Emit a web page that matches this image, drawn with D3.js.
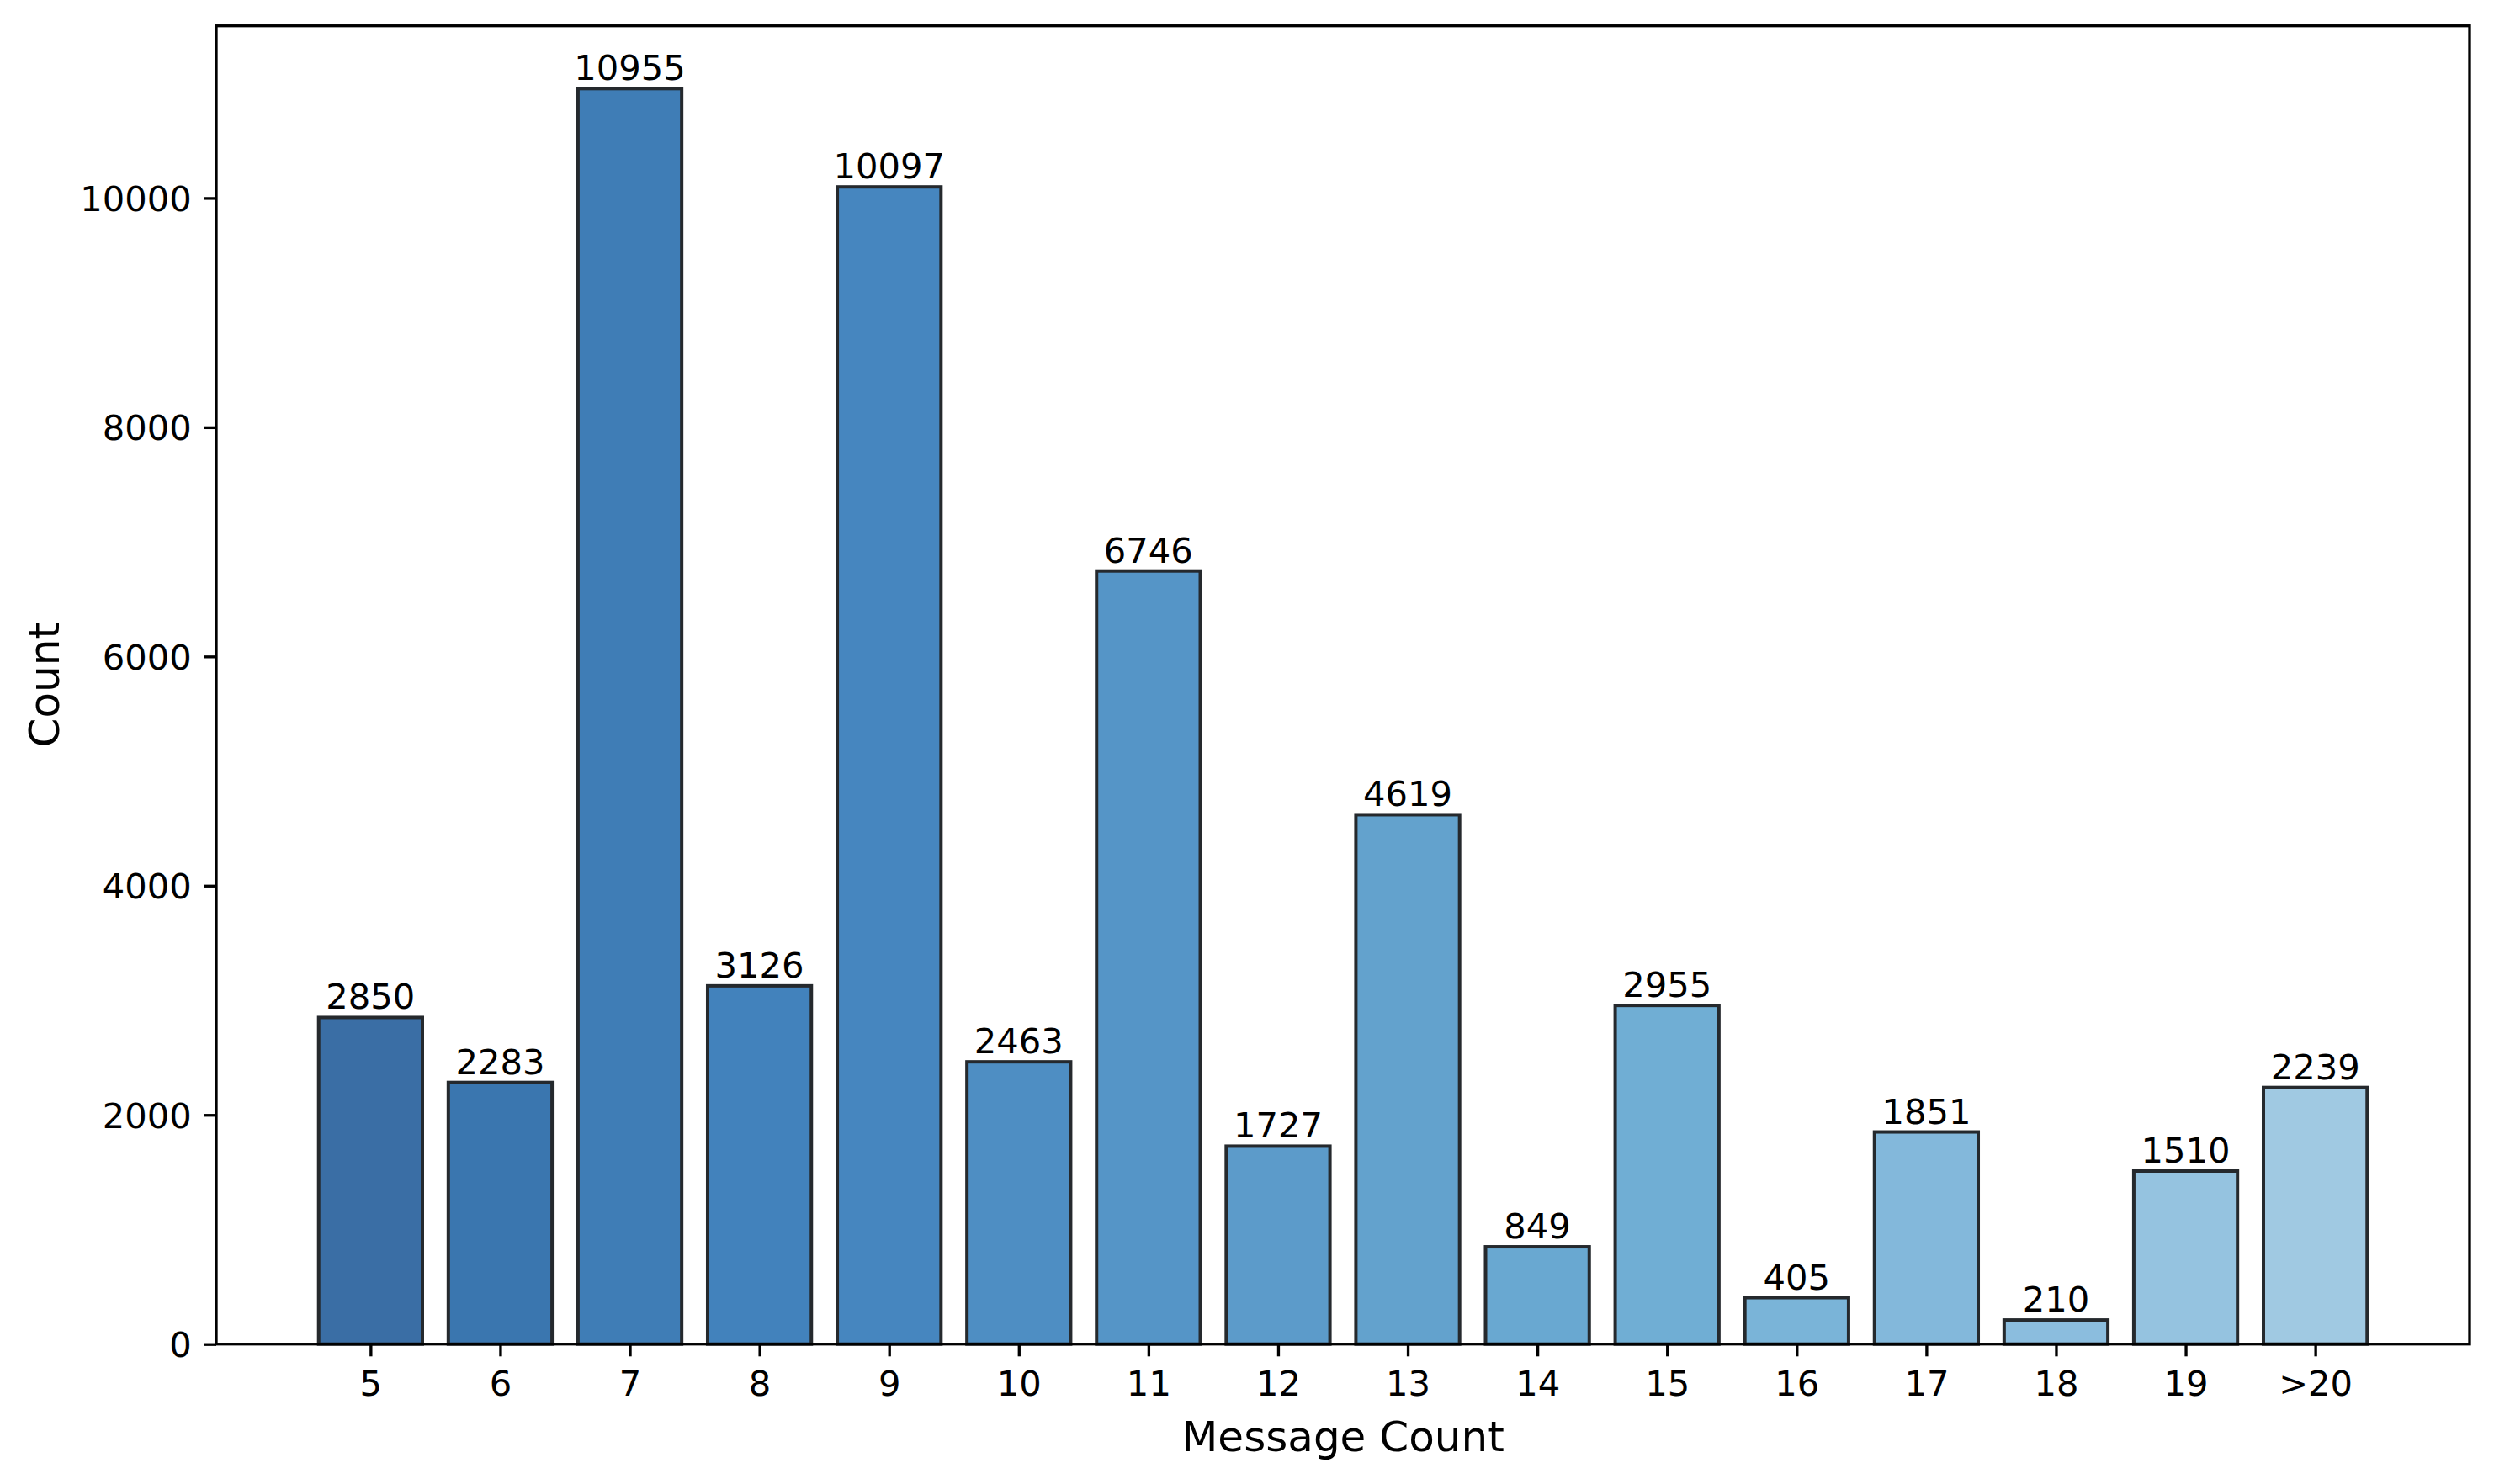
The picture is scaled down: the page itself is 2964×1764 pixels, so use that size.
<!DOCTYPE html>
<html>
<head>
<meta charset="utf-8">
<script src="https://cdn.jsdelivr.net/npm/d3@7"></script>
<style>
  html, body { margin: 0; padding: 0; background: #ffffff; }
  svg { display: block; }
  text { font-family: "DejaVu Sans", sans-serif; fill: #000; }
</style>
</head>
<body>
<svg id="chart" width="2964" height="1764"></svg>
<script>
// ---- data ----
const categories = ["5", "6", "7", "8", "9", "10", "11", "12", "13", "14", "15", "16", "17", "18", "19", ">20"];
const counts = [2850, 2283, 10955, 3126, 10097, 2463, 6746, 1727, 4619, 849, 2955, 405, 1851, 210, 1510, 2239];
const yTickValues = [0, 2000, 4000, 6000, 8000, 10000];
const xAxisTitle = "Message Count";
const yAxisTitle = "Count";

// ---- style ----
const barColors = ["#3a6ea5", "#3a76af", "#3f7db6", "#4282bc", "#4686bf", "#4e8ec3", "#5595c7", "#5c9bca",
                   "#63a2cd", "#69a8d1", "#70aed4", "#7ab4d8", "#83b8db", "#8bbdde", "#95c3e0", "#a0c9e2"];
const W = 2964, H = 1764;
const plot = { left: 257, right: 2935, top: 30.7, bottom: 1597.7 };
const tickFont = 41.67, labelFont = 50;
const tickLen = 14.6, tickPad = 14.6;
const barWidth = 0.8;

const svg = d3.select("#chart");
svg.append("rect").attr("width", W).attr("height", H).attr("fill", "#fff");

const n = categories.length;
const xMargin = 0.05 * (n - 1 + barWidth);
const x = d3.scaleLinear()
  .domain([-barWidth / 2 - xMargin, n - 1 + barWidth / 2 + xMargin])
  .range([plot.left, plot.right]);
const y = d3.scaleLinear()
  .domain([0, d3.max(counts) * 1.05])
  .range([plot.bottom, plot.top]);

const data = categories.map((c, i) => ({ c, i, v: counts[i] }));

// bars
svg.append("g").selectAll("rect").data(data).join("rect")
  .attr("x", d => x(d.i - barWidth / 2))
  .attr("width", d => x(d.i + barWidth / 2) - x(d.i - barWidth / 2))
  .attr("y", d => y(d.v))
  .attr("height", d => y(0) - y(d.v))
  .attr("fill", d => barColors[d.i])
  .attr("stroke", "#25292d")
  .attr("stroke-width", 4);

// bar labels
svg.append("g").selectAll("text").data(data).join("text")
  .attr("x", d => x(d.i))
  .attr("y", d => y(d.v) - 10)
  .attr("text-anchor", "middle")
  .style("font-size", tickFont + "px")
  .text(d => d.v);

// y axis
const yAxis = svg.append("g")
  .attr("transform", `translate(${plot.left},0)`)
  .call(d3.axisLeft(y).tickValues(yTickValues).tickFormat(d3.format("d"))
    .tickSize(tickLen).tickPadding(tickPad));
yAxis.select(".domain").remove();
yAxis.selectAll(".tick line").attr("stroke", "#000").attr("stroke-width", 3.33);
yAxis.selectAll(".tick text")
  .style("font-size", tickFont + "px")
  .style("font-family", "'DejaVu Sans', sans-serif")
  .attr("fill", "#000")
  .attr("dy", "0.36em");

// x axis
const xAxis = svg.append("g")
  .attr("transform", `translate(0,${plot.bottom})`)
  .call(d3.axisBottom(x).tickValues(d3.range(n)).tickFormat(i => categories[i])
    .tickSize(tickLen).tickPadding(tickPad));
xAxis.select(".domain").remove();
xAxis.selectAll(".tick line").attr("stroke", "#000").attr("stroke-width", 3.33);
xAxis.selectAll(".tick text")
  .style("font-size", tickFont + "px")
  .style("font-family", "'DejaVu Sans', sans-serif")
  .attr("fill", "#000")
  .attr("dy", "0.76em");

// frame (spines)
svg.append("rect")
  .attr("x", plot.left).attr("y", plot.top)
  .attr("width", plot.right - plot.left).attr("height", plot.bottom - plot.top)
  .attr("fill", "none").attr("stroke", "#000").attr("stroke-width", 3.33);

// axis titles
svg.append("text")
  .attr("x", (plot.left + plot.right) / 2)
  .attr("y", 1725)
  .attr("text-anchor", "middle")
  .style("font-size", labelFont + "px")
  .text(xAxisTitle);

svg.append("text")
  .attr("transform", `translate(70,${(plot.top + plot.bottom) / 2}) rotate(-90)`)
  .attr("text-anchor", "middle")
  .style("font-size", labelFont + "px")
  .text(yAxisTitle);
</script>
</body>
</html>
